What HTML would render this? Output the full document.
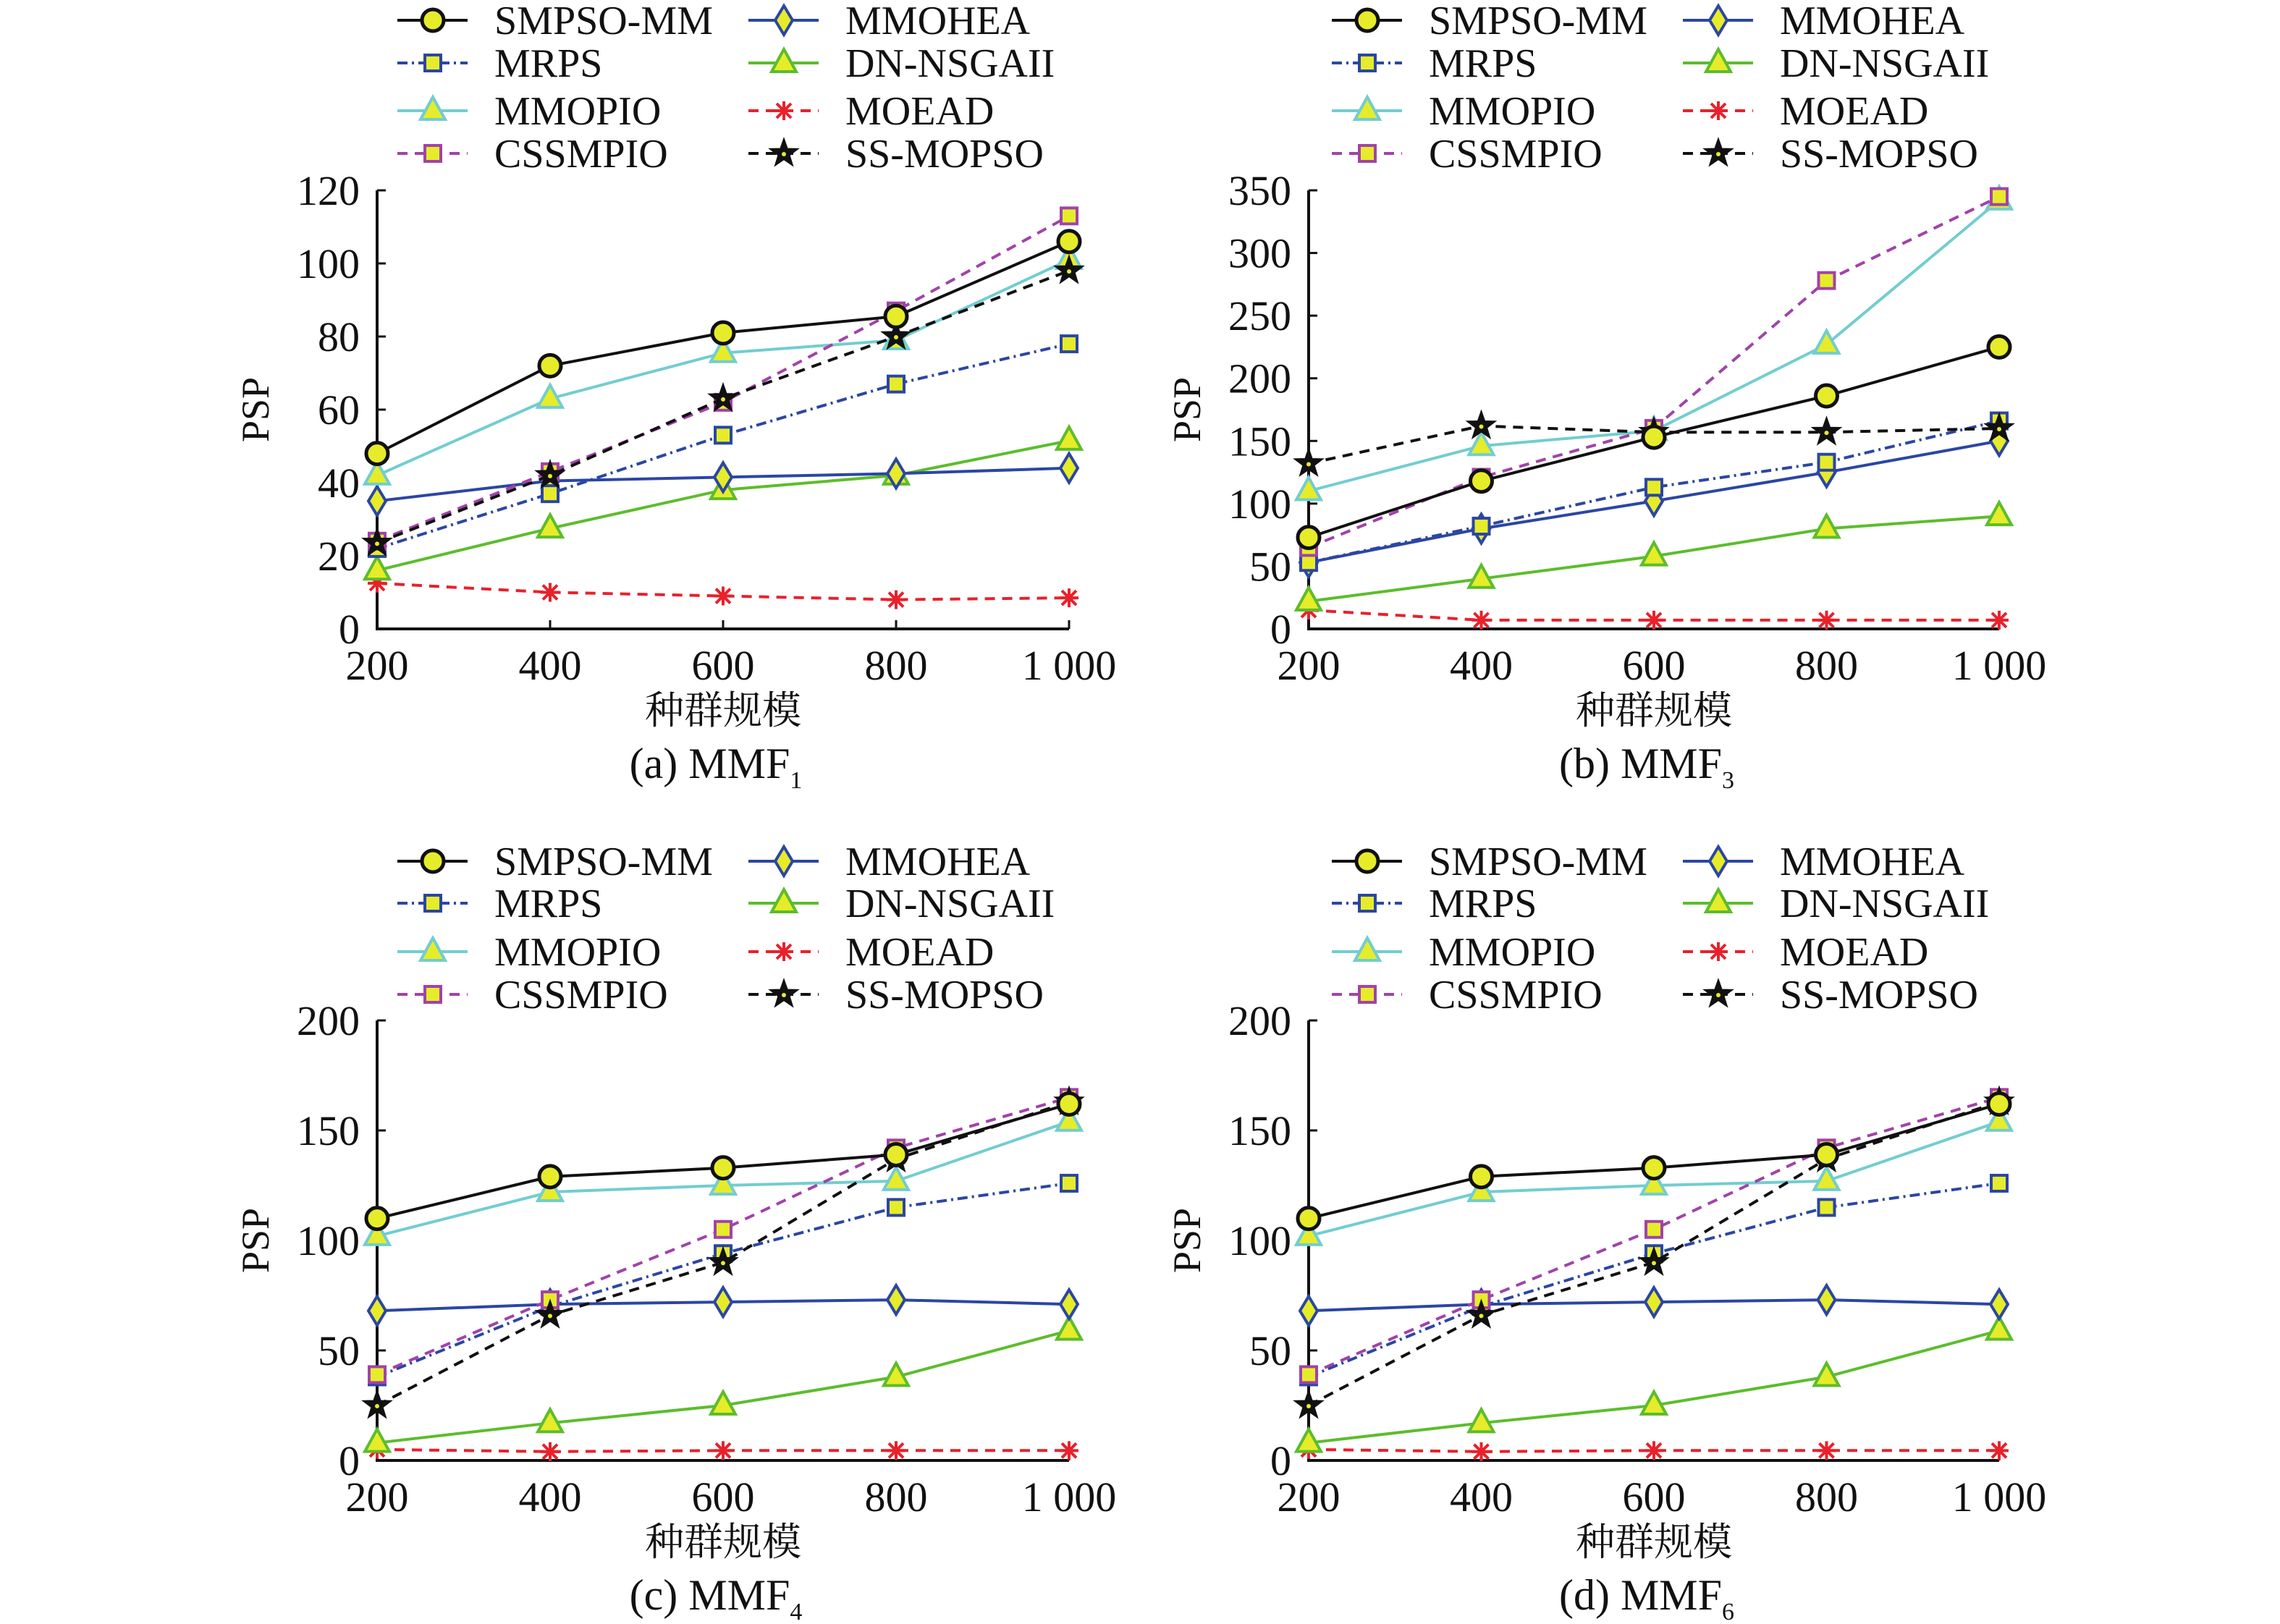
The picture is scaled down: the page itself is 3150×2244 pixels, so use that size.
<!DOCTYPE html>
<html><head><meta charset="utf-8"><style>
html,body{margin:0;padding:0;background:#fff;}
svg{display:block;font-family:"Liberation Serif","Noto Serif CJK SC",serif;}
</style></head><body>
<svg id="chart" width="3150" height="2244" viewBox="0 0 3150 2244" xmlns="http://www.w3.org/2000/svg"></svg>
<script>
const categories = [200, 400, 600, 800, 1000];
const xTickLabels = ["200", "400", "600", "800", "1 000"];
const seriesNames = ["SMPSO-MM","MMOHEA","MRPS","DN-NSGAII","MMOPIO","MOEAD","CSSMPIO","SS-MOPSO"];
// panel a (MMF1)
const a_smpso = [48, 72, 81, 85.5, 106];
const a_mmohea = [35, 40.5, 41.5, 42.5, 44];
const a_mrps = [22, 37, 53, 67, 78];
const a_dn = [16, 27.5, 38, 42, 51.5];
const a_mmopio = [42, 63, 75.5, 79, 101];
const a_moead = [12.5, 10, 9, 8, 8.5];
const a_cssmpio = [24, 43, 62, 87, 113];
const a_ssmopso = [23.5, 42, 63, 80, 98];
const a_yTicks = [0, 20, 40, 60, 80, 100, 120];
// panel b (MMF3)
const b_smpso = [73, 118, 153, 186, 225];
const b_mmohea = [53, 80, 102, 125, 150];
const b_mrps = [53, 82, 113, 133, 166];
const b_dn = [22, 40, 58, 80, 90];
const b_mmopio = [110, 146, 158, 227, 342];
const b_moead = [15, 7, 7, 7, 7];
const b_cssmpio = [65, 121, 160, 278, 345];
const b_ssmopso = [132, 162, 157, 157, 160];
const b_yTicks = [0, 50, 100, 150, 200, 250, 300, 350];
// panel c (MMF4)
const c_smpso = [110, 129, 133, 139, 162];
const c_mmohea = [68, 71, 72, 73, 71];
const c_mrps = [38, 70, 94, 115, 126];
const c_dn = [8, 17, 25, 38, 59];
const c_mmopio = [102, 122, 125, 127, 154];
const c_moead = [5, 4, 4.5, 4.5, 4.5];
const c_cssmpio = [39, 73, 105, 142, 165];
const c_ssmopso = [25, 66, 90, 137, 163];
const c_yTicks = [0, 50, 100, 150, 200];
// panel d (MMF6)
const d_smpso = [110, 129, 133, 139, 162];
const d_mmohea = [68, 71, 72, 73, 71];
const d_mrps = [38, 70, 94, 115, 126];
const d_dn = [8, 17, 25, 38, 59];
const d_mmopio = [102, 122, 125, 127, 154];
const d_moead = [5, 4, 4.5, 4.5, 4.5];
const d_cssmpio = [39, 73, 105, 142, 165];
const d_ssmopso = [25, 66, 90, 137, 163];
const d_yTicks = [0, 50, 100, 150, 200];

const NS = "http://www.w3.org/2000/svg";
const svg = document.getElementById("chart");
const BLUE = "#2b46a3", YEL = "#e6ec2a";
const styles = {
  "SMPSO-MM": {c:"#111", dash:"", m:"circle", mc:"#111"},
  "MMOHEA": {c:BLUE, dash:"", m:"diamond", mc:BLUE},
  "MRPS": {c:BLUE, dash:"14 6 3 6", m:"square", mc:BLUE},
  "DN-NSGAII": {c:"#5cbd2c", dash:"", m:"triangle", mc:"#5cbd2c"},
  "MMOPIO": {c:"#72cdd0", dash:"", m:"triangle", mc:"#72cdd0"},
  "MOEAD": {c:"#e8212b", dash:"14 10", m:"asterisk", mc:"#e8212b"},
  "CSSMPIO": {c:"#a242aa", dash:"14 10", m:"square", mc:"#a242aa"},
  "SS-MOPSO": {c:"#111", dash:"14 10", m:"star", mc:"#111"}
};
function el(tag, attrs, parent){
  const e = document.createElementNS(NS, tag);
  for (const k in attrs) e.setAttribute(k, attrs[k]);
  (parent||svg).appendChild(e);
  return e;
}
function marker(g, type, x, y, col){
  let e;
  if (type==="circle") e = el("circle",{cx:x,cy:y,r:15,fill:YEL,stroke:col,"stroke-width":5},g);
  else if (type==="square") e = el("rect",{x:x-11,y:y-11,width:22,height:22,fill:YEL,stroke:col,"stroke-width":4},g);
  else if (type==="diamond") e = el("polygon",{points:`${x},${y-20} ${x+12},${y} ${x},${y+20} ${x-12},${y}`,fill:YEL,stroke:col,"stroke-width":4},g);
  else if (type==="triangle") e = el("polygon",{points:`${x},${y-19} ${x+17},${y+12} ${x-17},${y+12}`,fill:YEL,stroke:col,"stroke-width":4},g);
  else if (type==="asterisk"){
    e = el("path",{d:`M${x-13},${y}H${x+13}M${x},${y-13}V${y+13}M${x-10},${y-10}L${x+10},${y+10}M${x-10},${y+10}L${x+10},${y-10}`,stroke:col,"stroke-width":4,fill:"none"},g);
  } else if (type==="star"){
    let pts=[];
    for(let i=0;i<10;i++){const r=i%2?8:20;const a=-Math.PI/2+i*Math.PI/5;pts.push((x+r*Math.cos(a)).toFixed(1)+","+(y+r*Math.sin(a)).toFixed(1));}
    e = el("polygon",{points:pts.join(" "),fill:"#111",stroke:"#111","stroke-width":2},g);
    el("circle",{cx:x,cy:y+1,r:3,fill:YEL},g);
  }
  
  
  return e;
}
function panel(key, px0, px1, py0, py1, yMax, yTicks, data, caption, sub){
  const g = el("g",{});
  
  
  const xs = v => px0 + (v-200)/800*(px1-px0);
  const ys = v => py0 - v/yMax*(py0-py1);
  const ax = el("path",{d:`M${px0},${py1}V${py0}H${px1}`,stroke:"#111","stroke-width":4,fill:"none"},g);
  
  
  categories.forEach((c,i)=>{
    const x = xs(c);
    el("line",{x1:x,y1:py0,x2:x,y2:py0-12,stroke:"#111","stroke-width":3},g);
    const t = el("text",{x:x,y:py0+70,"text-anchor":"middle","font-size":58,fill:"#111"},g);
    t.textContent = xTickLabels[i];
    
    
  });
  yTicks.forEach(v=>{
    const y = ys(v);
    el("line",{x1:px0,y1:y,x2:px0+12,y2:y,stroke:"#111","stroke-width":3},g);
    const t = el("text",{x:px0-24,y:y+20,"text-anchor":"end","font-size":58,fill:"#111"},g);
    t.textContent = v;
    
    
  });
  const yl = el("text",{x:0,y:0,"text-anchor":"middle","font-size":54,fill:"#111",transform:`translate(${px0-150},${(py0+py1)/2}) rotate(-90)`},g);
  yl.textContent = "PSP";
  
  
  const xl = el("text",{x:(px0+px1)/2,y:py0+131,"text-anchor":"middle","font-size":54,fill:"#111"},g);
  xl.textContent = "种群规模";
  
  
  const cap = el("text",{x:(px0+px1)/2-10,y:py0+206,"text-anchor":"middle","font-size":60,fill:"#111"},g);
  cap.innerHTML = caption + `<tspan font-size="34" dy="14">${sub}</tspan>`;
  
  
  const order = ["MOEAD","DN-NSGAII","MMOHEA","MRPS","MMOPIO","CSSMPIO","SS-MOPSO","SMPSO-MM"];
  order.forEach(name=>{
    const st = styles[name], vals = data[name];
    const sg = el("g",{},g);
    
    
    const d = vals.map((v,i)=>(i?"L":"M")+xs(categories[i]).toFixed(1)+","+ys(v).toFixed(1)).join("");
    const p = el("path",{d:d,stroke:st.c,"stroke-width":4,fill:"none","stroke-dasharray":st.dash},sg);
    
    
    vals.forEach((v,i)=>marker(sg, st.m, xs(categories[i]), ys(v), st.mc));
  });
}
function legend(ox, rows){
  seriesNames.forEach((name,i)=>{
    const col = i%2, row = Math.floor(i/2);
    const st = styles[name];
    const lx = ox + col*485, ly = rows[row];
    const g = el("g",{});
    
    
    el("line",{x1:lx,y1:ly,x2:lx+97,y2:ly,stroke:st.c,"stroke-width":4,"stroke-dasharray":st.dash},g);
    marker(g, st.m, lx+49, ly, st.mc);
    const t = el("text",{x:lx+134,y:ly+19,"font-size":56,fill:"#111"},g);
    t.textContent = name;
  });
}
function mk(p){return {"SMPSO-MM":p[0],"MMOHEA":p[1],"MRPS":p[2],"DN-NSGAII":p[3],"MMOPIO":p[4],"MOEAD":p[5],"CSSMPIO":p[6],"SS-MOPSO":p[7]};}
panel("a",521,1477,869,263,120,a_yTicks,mk([a_smpso,a_mmohea,a_mrps,a_dn,a_mmopio,a_moead,a_cssmpio,a_ssmopso]),"(a) MMF","1");
panel("b",1808,2762,869,263,350,b_yTicks,mk([b_smpso,b_mmohea,b_mrps,b_dn,b_mmopio,b_moead,b_cssmpio,b_ssmopso]),"(b) MMF","3");
panel("c",521,1477,2018,1410,200,c_yTicks,mk([c_smpso,c_mmohea,c_mrps,c_dn,c_mmopio,c_moead,c_cssmpio,c_ssmopso]),"(c) MMF","4");
panel("d",1808,2762,2018,1410,200,d_yTicks,mk([d_smpso,d_mmohea,d_mrps,d_dn,d_mmopio,d_moead,d_cssmpio,d_ssmopso]),"(d) MMF","6");
legend(549,[28,87,153,212]);
legend(1840,[28,87,153,212]);
legend(549,[1190,1248,1315,1374]);
legend(1840,[1190,1248,1315,1374]);
</script>
</body></html>
